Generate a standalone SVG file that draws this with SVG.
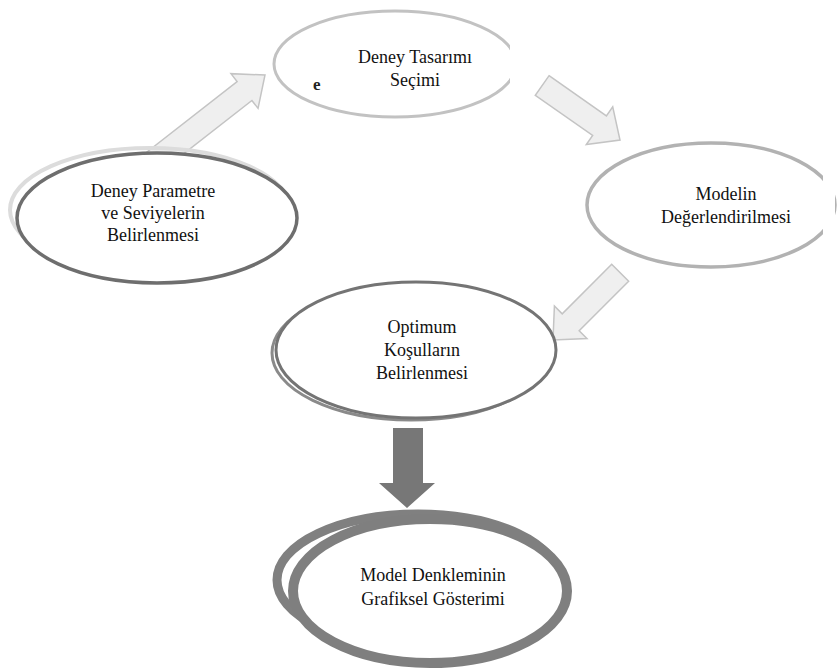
<svg xmlns="http://www.w3.org/2000/svg" width="839" height="672" viewBox="0 0 839 672">
<style>
  .t { font-family: "Liberation Serif", "Times New Roman", serif; font-size: 18px; fill: #111; text-anchor: middle; }
  .light { fill: #efefef; stroke: #c4c4c4; stroke-width: 1.5; stroke-linejoin: miter; }
  .node { fill: #ffffff; }
</style>
<defs>
  <polygon id="arrowShape" points="-95,-12 -25,-12 -25,-23 0,0 -25,23 -25,12 -95,12"/>
</defs>
<rect width="839" height="672" fill="#ffffff"/>

<g id="connectors">
  <polygon class="light" points="-190,-12 -26,-12 -26,-22 0,0 -26,22 -26,12 -190,12" transform="translate(265,75) rotate(-38)"/>
  <use href="#arrowShape" class="light" transform="translate(620,140) rotate(35)"/>
  <use href="#arrowShape" class="light" transform="translate(553,340) rotate(135)"/>
  <polygon points="393,428 423,428 423,483 435,483 407,508 379,483 393,483" fill="#777777"/>
</g>

<g id="node-deney-tasarimi">
  <ellipse class="node" cx="395" cy="64" rx="121" ry="53" stroke="#c2c2c2" stroke-width="3"/>
  <rect x="510" y="33" width="10" height="62" fill="#ffffff"/>
  <text class="t" x="415" y="63">Deney Tasarımı</text>
  <text class="t" x="415" y="86">Seçimi</text>
  <text x="313" y="90" font-family="Liberation Serif, serif" font-size="17" font-weight="bold" fill="#222">e</text>
</g>

<g id="node-parametre">
  <ellipse cx="150" cy="210" rx="140" ry="62" fill="none" stroke="#dcdcdc" stroke-width="4"/>
  <ellipse class="node" cx="157" cy="218" rx="140" ry="65" stroke="#6e6e6e" stroke-width="3.5"/>
  <text class="t" x="153" y="197">Deney Parametre</text>
  <text class="t" x="153" y="219">ve Seviyelerin</text>
  <text class="t" x="153" y="241">Belirlenmesi</text>
</g>

<g id="node-modelin">
  <ellipse class="node" cx="711" cy="205" rx="124" ry="62" stroke="#b2b2b2" stroke-width="3.5"/>
  <rect x="823" y="172" width="12" height="78" fill="#ffffff"/>
  <text class="t" x="726" y="200">Modelin</text>
  <text class="t" x="726" y="223">Değerlendirilmesi</text>
</g>

<g id="node-optimum">
  <ellipse cx="411" cy="353" rx="139" ry="67" fill="none" stroke="#8a8a8a" stroke-width="3"/>
  <ellipse class="node" cx="416" cy="350" rx="140" ry="68" stroke="#747474" stroke-width="3"/>
  <text class="t" x="422" y="333">Optimum</text>
  <text class="t" x="422" y="356">Koşulların</text>
  <text class="t" x="422" y="379">Belirlenmesi</text>
</g>

<g id="node-grafiksel">
  <ellipse cx="418" cy="580" rx="141" ry="66" fill="none" stroke="#808080" stroke-width="9"/>
  <ellipse class="node" cx="430" cy="591" rx="137" ry="72" stroke="#7f7f7f" stroke-width="10"/>
  <text class="t" x="433" y="581">Model Denkleminin</text>
  <text class="t" x="433" y="605">Grafiksel Gösterimi</text>
</g>
</svg>
